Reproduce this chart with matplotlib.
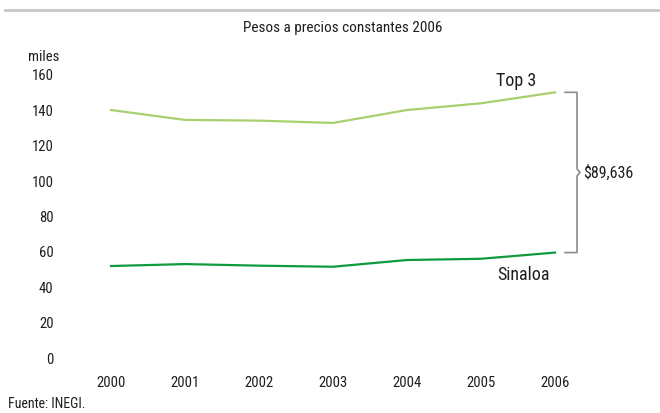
import matplotlib
matplotlib.use("Agg")
import matplotlib.pyplot as plt

years = [2000, 2001, 2002, 2003, 2004, 2005, 2006]
top3 = [140.2, 134.6, 134.2, 132.9, 140.2, 144.0, 150.2]
sinaloa = [52.0, 53.1, 52.2, 51.6, 55.4, 56.1, 59.6]
yticks = [0, 20, 40, 60, 80, 100, 120, 140, 160]
diff_label = "$89,636"

plt.rcParams['font.family'] = ['Roboto Condensed', 'DejaVu Sans']
plt.rcParams['font.stretch'] = 'condensed'

W, H = 660, 413
fig = plt.figure(figsize=(W/100, H/100), dpi=100)
ax = fig.add_axes([80/W, (H-370)/H, 520/W, 310/H])

c_top = '#a9d06f'
c_sin = '#0f9a3e'
ax.plot(years, top3, color=c_top, lw=1.6)
ax.plot(years, sinaloa, color=c_sin, lw=1.6)

ax.set_xlim(2000 - 31/74, 2006 + 45/74)
ax.set_ylim(-12/1.769, 160 + 15/1.769)
for s in ax.spines.values():
    s.set_visible(False)
ax.set_xticks(years)
ax.set_xticklabels([str(y) for y in years])
ax.set_yticks(yticks)
ax.set_yticklabels([str(v) for v in yticks])
ax.tick_params(axis='both', length=0, labelsize=10.5, colors='#1e1e1e')
ax.tick_params(axis='y', pad=19)
ax.tick_params(axis='x', pad=4)

def px(x, y):
    return (x / W, 1 - y / H)

fig.text(*px(516, 81), "Top 3", fontsize=13, color='#1e1e1e', ha='center', va='center')
fig.text(*px(524, 275), "Sinaloa", fontsize=13, color='#1e1e1e', ha='center', va='center')

# bracket
x0 = 2006 + 10/74
x1 = 2006 + 22/74
xn = 2006 + 25/74
ymid = (top3[-1] + sinaloa[-1]) / 2
ax.plot([x0, x1, x1, xn, x1, x1, x0],
        [top3[-1], top3[-1], ymid + 2, ymid, ymid - 2, sinaloa[-1], sinaloa[-1]],
        color='#8c8c8c', lw=1.2, clip_on=False)
ax.text(2006 + 28/74, ymid, diff_label, fontsize=11.5, color='#1e1e1e', ha='left', va='center')

fig.text(*px(343, 28), "Pesos a precios constantes 2006", fontsize=11, ha='center', va='center', color='#1e1e1e')
fig.text(*px(44, 57), "miles", fontsize=10.5, ha='center', va='center', color='#1e1e1e')
fig.text(*px(8, 404), "Fuente: INEGI.", fontsize=10, ha='left', va='center', color='#1e1e1e')
fig.add_artist(plt.Line2D([5/W, 1], [1 - 10/H, 1 - 10/H], color='#c8c8c8', lw=2))

fig.savefig("out.png", dpi=100)
